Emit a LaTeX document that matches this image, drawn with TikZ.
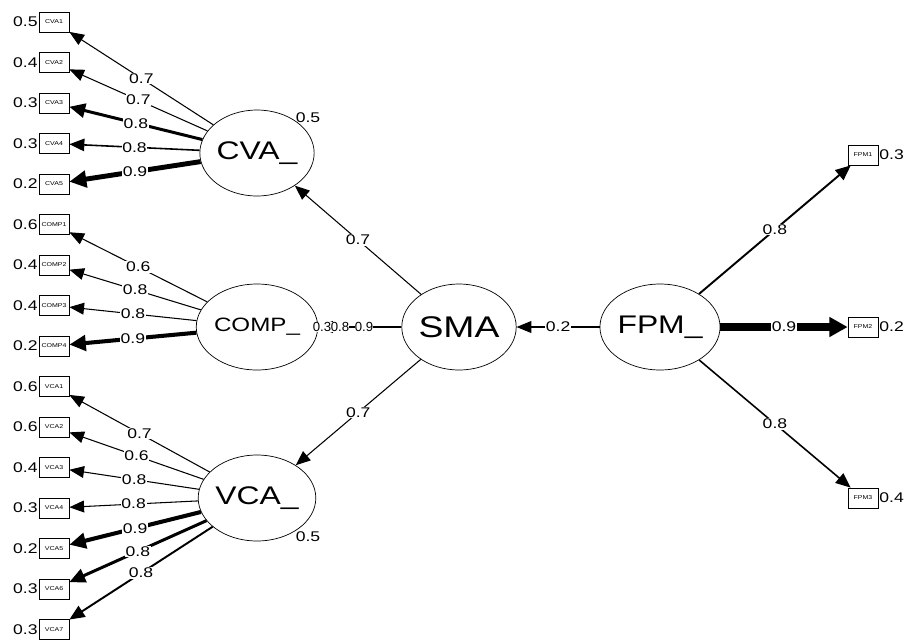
\documentclass[tikz,border=0pt]{standalone}
\usepackage{fontspec}
\setmainfont[FakeStretch=1.25]{Liberation Sans}
\newfontfamily\narrowfont{Liberation Sans}
\usetikzlibrary{arrows.meta,shapes.geometric}

\tikzset{
  lat/.style={draw, ellipse, minimum width=2.28cm, minimum height=1.72cm, inner sep=0pt, font=\fontsize{14.5}{14.5}\selectfont},
  man/.style={draw, rectangle, minimum width=0.6cm, minimum height=0.4cm, inner sep=0pt, font=\fontsize{3.2}{3.2}\selectfont},
  val/.style={font=\fontsize{8}{8}\selectfont, inner sep=0.4pt},
  est/.style={val, fill=white, midway},
  small/.style={font=\narrowfont\fontsize{7.5}{7.5}\selectfont, inner sep=0pt, fill=white},
  load/.style={-{Triangle[length=8pt 0.6, width=6pt 1.2]}},
}

\begin{document}
\begin{tikzpicture}[x=0.02cm, y=-0.02cm]
	\useasboundingbox (0,0) rectangle (906,640);
	
	% latent variables
	\node[lat] (cva) at (257,153) {CVA\_};
	\node[lat, font=\fontsize{11}{11}\selectfont] (comp) at (257,327) {COMP\_};
	\node[lat] (vca) at (257,498) {VCA\_};
	\node[lat, font=\fontsize{17}{17}\selectfont] (sma) at (459,327) {SMA};
	\node[lat] (fpm) at (660,327) {FPM\_};
	
	% indicators on the left
	\foreach \lv/\mv/\rv/\ev/\wv [count=\i from 0] in {
		cva/CVA1/0.5/0.7/0.6pt, cva/CVA2/0.4/0.7/0.6pt, cva/CVA3/0.3/0.8/1.7pt, cva/CVA4/0.3/0.8/0.9pt, cva/CVA5/0.2/0.9/2.8pt,
		comp/COMP1/0.6/0.6/0.6pt, comp/COMP2/0.4/0.8/0.6pt, comp/COMP3/0.4/0.8/0.6pt, comp/COMP4/0.2/0.9/2.3pt,
		vca/VCA1/0.6/0.7/0.6pt, vca/VCA2/0.6/0.6/0.6pt, vca/VCA3/0.4/0.8/0.6pt, vca/VCA4/0.3/0.8/0.6pt,
		vca/VCA5/0.2/0.9/2.3pt, vca/VCA6/0.3/0.8/1.7pt, vca/VCA7/0.3/0.8/1.1pt}
	{
		\node[man] (\mv) at (54,{22+40.5*\i}) {\mv};
		\node[val, anchor=east] (r\mv) at (\mv.west) {\rv};
		\draw[load, line width=\wv] (\lv) -- (\mv) node[est] {\ev};
	}
	
	% indicators on the right
	\foreach \mv/\yv/\rv/\ev/\wv in {FPM1/155/0.3/0.8/1.1pt, FPM2/327/0.2/0.9/4pt, FPM3/498/0.4/0.8/0.9pt}
	{
		\node[man] (\mv) at (863,\yv) {\mv};
		\node[val, anchor=west] (r\mv) at (\mv.east) {\rv};
		\draw[load, line width=\wv] (fpm) -- (\mv) node[est] {\ev};
	}
	
	% structural paths
	\draw[load, line width=0.6pt] (fpm) -- (sma) node[est] {0.2};
	\draw[load, line width=0.6pt] (sma) -- (cva) node[est] {0.7};
	\draw[load, line width=0.6pt] (sma) -- (vca) node[est] {0.7};
	\draw[load, line width=0.6pt] (sma) -- (comp) node[small, pos=0.45] {0.9};
	
	% residuals
	\node[val] (rcva) at (308,118) {0.5};
	\node[val] (rvca) at (308,537) {0.5};
	\node[small] (rcomp) at (322,327) {0.3};
	\node[small] (rsma) at (340,327) {0.8};
\end{tikzpicture}
\end{document}
